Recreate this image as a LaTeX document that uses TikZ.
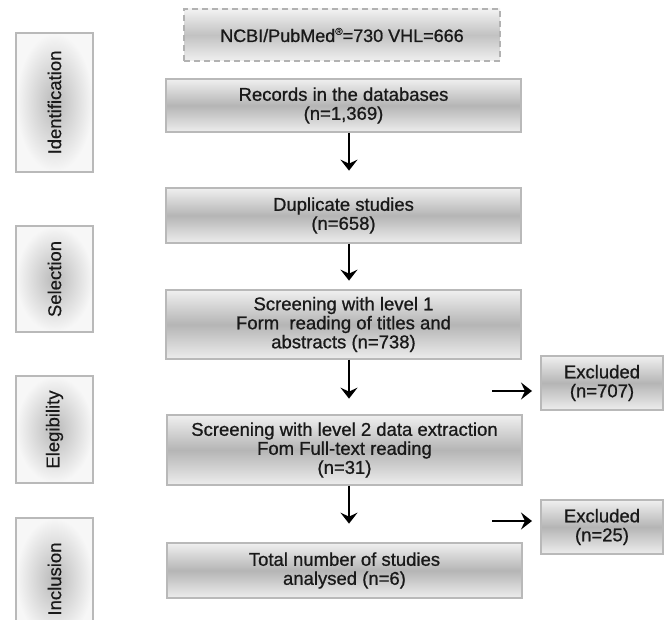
\documentclass[tikz,border=0pt]{standalone}
\usepackage{fontspec}
\setmainfont{Liberation Sans}[FakeBold=0.4]
\newfontfamily\heavy{Liberation Sans}[FakeBold=0.85]
\usetikzlibrary{arrows.meta}
\begin{document}
\begin{tikzpicture}[x=1pt,y=-1pt,
  mainbox/.style={draw=gray!55, line width=1.3pt, top color=gray!12, bottom color=gray!14, middle color=gray!58,
    minimum width=355pt, align=center, font=\heavy\fontsize{18.5}{19}\selectfont, text=black!90, inner sep=0pt},
  exbox/.style={mainbox, minimum width=122pt, minimum height=54pt},
  srcbox/.style={draw=gray!60, dashed, dash pattern=on 6pt off 4pt, line width=1.3pt, top color=gray!10, bottom color=gray!12, middle color=gray!48,
    minimum width=316pt, minimum height=52pt, font=\heavy\fontsize{18}{19}\selectfont, text=black!90, inner sep=0pt},
  phase/.style={draw=gray!55, line width=1.3pt, shading=radial, inner color=gray!55, outer color=gray!6,
    rotate=90, minimum height=77pt, font=\fontsize{18.5}{20}\selectfont, text=black!90, inner sep=0pt},
  arr/.style={line width=2.6pt, -{Stealth[length=11pt,width=17pt,inset=4pt]}}
]
\useasboundingbox (0,0) rectangle (664,620);
\clip (0,0) rectangle (664,620);

% phase boxes
\node[phase, minimum width=139pt] (ident) at (54.5,102.5) {Identification};
\node[phase, minimum width=106pt] (sel) at (54.5,279) {Selection};
\node[phase, minimum width=107pt] (elig) at (54.5,429.5) {Elegibility};
\node[phase, minimum width=122pt] (incl) at (54.5,579) {Inclusion};

% flow boxes
\node[srcbox] (src) at (342,35) {NCBI/PubMed\raisebox{0.75ex}{\fontsize{10}{10}\selectfont ®}=730 VHL=666};
\node[mainbox, minimum height=53pt] (rec) at (343.5,105.5) {Records in the databases\\(n=1,369)};
\node[mainbox, minimum height=55pt] (dup) at (343.5,215.5) {Duplicate studies\\(n=658)};
\node[mainbox, minimum height=69pt] (scr1) at (343.5,324.5) {Screening with level 1\\Form\ \ reading of titles and\\abstracts (n=738)};
\node[mainbox, minimum height=70pt] (scr2) at (344.5,450) {Screening with level 2 data extraction\\Fom Full-text reading\\(n=31)};
\node[mainbox, minimum height=55pt] (tot) at (344.5,570.5) {Total number of studies\\analysed (n=6)};
\node[exbox] (ex1) at (602,383) {Excluded\\(n=707)};
\node[exbox] (ex2) at (602,527) {Excluded\\(n=25)};

% vertical arrows
\coordinate (ax) at (349,0);
\draw[arr] (rec.south -| ax) -- ++(0,38);
\draw[arr] (dup.south -| ax) -- ++(0,37);
\draw[arr] (scr1.south -| ax) -- ++(0,39);
\draw[arr] (scr2.south -| ax) -- ++(0,38);

% side arrows
\coordinate (e1) at (532,391);
\coordinate (e2) at (532,521);
\draw[arr] ([xshift=-40pt]e1) -- (e1);
\draw[arr] ([xshift=-40pt]e2) -- (e2);
\end{tikzpicture}
\end{document}
